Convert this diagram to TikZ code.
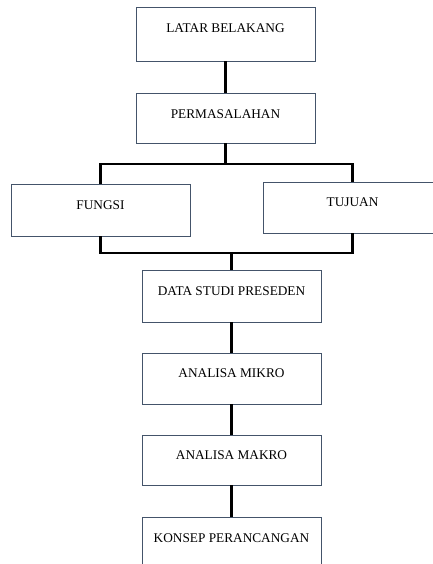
\documentclass[tikz,border=0pt]{standalone}
\usepackage{fontspec}
\setmainfont{Liberation Serif}
\definecolor{garisbox}{RGB}{68,84,106}

\begin{document}
\begin{tikzpicture}[x=1pt,y=-1pt,
	kotak/.style={draw=garisbox, line width=0.9pt, minimum width=179pt, minimum height=51pt,
		text height=9pt, text depth=11pt, font=\fontsize{13.3}{16}\selectfont},
	garis/.style={black, line width=2.6pt}]
	\useasboundingbox (0,0) rectangle (432,564);
	% kotak-kotak
	\node[kotak, minimum height=54pt] (latar) at (225.5,34) {LATAR BELAKANG};
	\node[kotak, minimum height=50pt, text depth=7pt] (masalah) at (225.5,118) {PERMASALAHAN};
	\node[kotak, minimum height=52pt] (fungsi) at (100.5,210) {FUNGSI};
	\node[kotak] (tujuan) at (352.5,207.5) {TUJUAN};
	\node[kotak, minimum height=52pt] (data) at (231.5,296) {DATA STUDI PRESEDEN};
	\node[kotak] (mikro) at (231.5,378.5) {ANALISA MIKRO};
	\node[kotak, minimum height=50pt] (makro) at (231.5,460) {ANALISA MAKRO};
	\node[kotak, minimum height=52pt] (konsep) at (231.5,543) {KONSEP PERANCANGAN};
	\coordinate (atas) at (229,164);
	\coordinate (bawah) at (229,253);
	% garis penghubung
	\draw[garis] (latar) -- (masalah);
	\draw[garis] (masalah.south) -- (masalah.south |- atas);
	\draw[garis] (fungsi.north) |- (atas) -| (tujuan.north);
	\draw[garis] (fungsi.south) |- (bawah) -| (tujuan.south);
	\draw[garis] (data.north |- bawah) -- (data.north);
	\draw[garis] (data) -- (mikro);
	\draw[garis] (mikro) -- (makro);
	\draw[garis] (makro) -- (konsep);
\end{tikzpicture}
\end{document}
